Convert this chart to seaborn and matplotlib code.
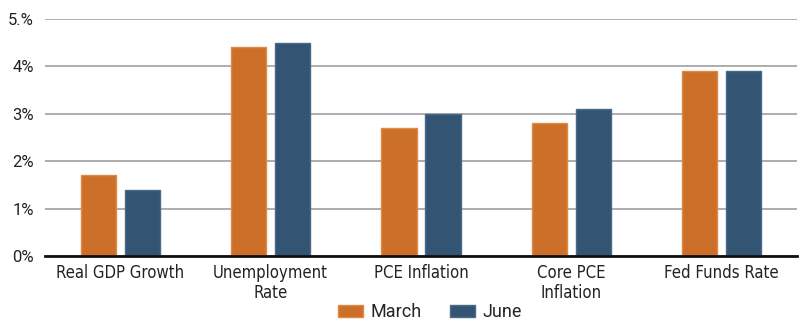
import matplotlib
matplotlib.use("Agg")
import matplotlib.pyplot as plt
import seaborn as sns
import pandas as pd
from matplotlib.ticker import FixedLocator, FixedFormatter
from matplotlib.patches import Patch

categories = ["Real GDP Growth", "Unemployment\nRate", "PCE Inflation", "Core PCE\nInflation", "Fed Funds Rate"]
march = [1.7, 4.4, 2.7, 2.8, 3.9]
june = [1.4, 4.5, 3.0, 3.1, 3.9]
series = ["March", "June"]
y_ticks = [0, 1, 2, 3, 4, 5]
y_tick_labels = ["0%", "1%", "2%", "3%", "4%", "5.%"]

colors = {"March": "#CC7029", "June": "#345473"}
edges = {"March": "#E08A45", "June": "#4A6A8A"}

df = pd.DataFrame({
    "Category": categories * 2,
    "Value": march + june,
    "Series": ["March"] * len(categories) + ["June"] * len(categories),
})

sns.set_theme(style="white")
plt.rcParams['font.family'] = ['Roboto', 'DejaVu Sans']

fig = plt.figure(figsize=(8, 3.28), dpi=100)
ax = fig.add_axes([45/800, 1-256/328, 752/800, (256-19)/328])

sns.barplot(data=df, x="Category", y="Value", hue="Series", order=categories,
            hue_order=series, palette=colors, width=0.585, gap=0.2,
            saturation=1, ax=ax, legend=False, zorder=3)
for cont, s in zip(ax.containers, series):
    for p in cont:
        p.set_edgecolor(edges[s])
        p.set_linewidth(1)

ax.set_xlim(-0.5, 4.5)
ax.set_ylim(0, 5)
ax.yaxis.set_major_locator(FixedLocator(y_ticks))
ax.yaxis.set_major_formatter(FixedFormatter(y_tick_labels))
ax.grid(axis="y", color="#A0A0A0", linewidth=1.2, zorder=0)
ax.set_axisbelow(True)
for s in ["top", "right", "left"]:
    ax.spines[s].set_visible(False)
ax.spines["bottom"].set_color("#111111")
ax.spines["bottom"].set_linewidth(2)
ax.spines["bottom"].set_zorder(5)
ax.set_xlabel("")
ax.set_ylabel("")
ax.tick_params(axis="y", length=0, pad=8, labelsize=12, labelcolor="#222222")
ax.tick_params(axis="x", length=0, pad=6, labelcolor="#222222")
for lab in ax.get_xticklabels():
    lab.set_fontfamily(['DejaVu Sans'])
    lab.set_fontstretch('condensed')
    lab.set_fontsize(12)
    lab.set_linespacing(1.15)

handles = [Patch(facecolor=colors[s], edgecolor=edges[s], label=s) for s in series]
fig.legend(handles=handles, loc="center", bbox_to_anchor=(430/800, 1-312/328),
           ncol=2, frameon=False, fontsize=13, handlelength=1.39, handleheight=0.64,
           handletextpad=0.4, columnspacing=1.55, borderpad=0)

fig.savefig("out.png", dpi=100)
